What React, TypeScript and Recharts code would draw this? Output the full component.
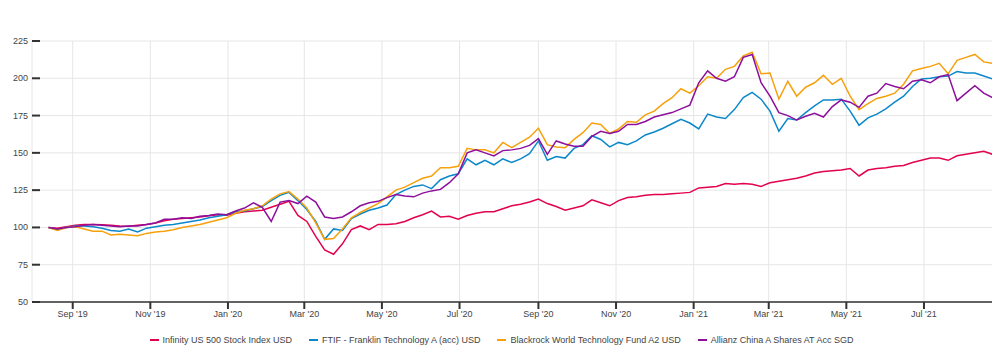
import React from 'react';
import { LineChart, Line, XAxis, YAxis, CartesianGrid, Legend } from 'recharts';

const DAY = 86400000;
const startDate = Date.UTC(2019, 7, 13);
const weekCount = 107;
const dates: number[] = Array.from({ length: weekCount }, (_, i) => startDate + i * 7 * DAY);

const infinityUS500 = [
  100, 99.5, 100.5, 101.5, 102, 102, 101.8, 101.5, 101, 100.8, 101.5, 102, 103, 104.5, 105.5, 106, 106.5, 107, 107.8, 108.5, 108.2,
  109.5, 110.5, 111, 111.5, 113.5, 115.5, 117.5, 108, 104, 94, 85, 82, 89, 98.5, 101, 98.5, 102, 102, 102.5, 104,
  106.5, 108.5, 111, 107, 107.5, 105.5, 108, 109.5, 110.5, 110.5, 112.5, 114.5, 115.5, 117, 119, 116, 114, 111.5, 113, 114.5,
  118.5, 116.5, 114.5, 118, 120, 120.5, 121.5, 122, 122, 122.5, 123, 123.5, 126.5, 127, 127.5, 129.5, 129, 129.5, 129, 127.5,
  130, 131, 132, 133, 134.5, 136.5, 137.5, 138, 138.5, 139.5, 134.5, 138.5, 139.5, 140, 141, 141.5, 143.5, 145, 146.5, 146.5, 145, 148, 149, 150, 151, 149,
];

const franklinTech = [
  100, 98.5, 100, 101, 101, 100.5, 99.5, 98, 97.5, 99, 97, 99.5, 100.5, 101.5, 102, 103, 104, 105, 106.5, 107.5, 108.5,
  110.5, 111, 112.5, 114, 118, 121.5, 123.5, 118, 112, 104, 92, 99, 98, 106, 109, 111.5, 113, 115, 122, 125,
  127.5, 128.5, 126, 132, 134.5, 136, 146, 142, 145, 142, 146, 143.5, 146, 149.5, 158, 145, 147.5, 146.5, 153, 155.5,
  161.5, 159, 154, 157, 155.5, 158, 162, 164, 166.5, 169.5, 172.5, 170, 166, 176, 174, 173, 179, 187, 190.5, 186,
  178, 164.5, 173, 172, 177, 181.5, 185.5, 185.5, 186, 178, 168.5, 173.5, 176, 179.5, 184, 188, 194.5, 199.5, 200, 201, 201.5, 204.5, 203.5, 203.5, 201.5, 199.5,
];

const blackrockTech = [
  100, 98, 100, 100.5, 99, 97.5, 97.5, 95, 95.5, 95, 94.5, 96, 97, 97.5, 98.5, 100, 101, 102, 103.5, 105, 106.5,
  109.5, 111.5, 112.5, 114.5, 119, 122.5, 124, 119, 113, 103, 92, 92.5, 99, 106.5, 110, 113, 116, 120.5, 125, 127,
  130, 133, 134.5, 140, 140, 141, 153, 152, 152, 150, 157, 153.5, 157, 160.5, 166.5, 155.5, 154, 153.5, 159, 163.5,
  170, 169, 163, 166, 171, 170.5, 175.5, 178, 183, 187, 193, 190, 195, 201, 200, 206, 208, 215, 217.5, 203,
  203.5, 186, 198, 188, 194, 197, 202, 196, 200, 188, 179, 183, 186.5, 188, 190, 196, 205, 206.5, 208, 210, 203, 212, 214, 216, 211, 210,
];

const allianzChinaA = [
  100, 99, 100, 100.5, 101.5, 102, 101.5, 101, 100.5, 101, 101, 102, 103, 105.5, 105.5, 106.5, 106, 107.5, 108, 109, 108.5,
  111, 113, 116.5, 113.5, 104, 117, 118, 116, 121, 117, 107, 106, 107, 110.5, 114.5, 116.5, 117.5, 120, 122, 121,
  120.5, 123, 124.5, 125.5, 130, 136, 150, 152, 150, 148, 151.5, 152, 153, 155, 159.5, 149, 158, 156, 154.5, 154.5,
  161, 164.5, 163, 164.5, 169, 169, 171, 174, 175.5, 177, 179.5, 182, 197, 205, 200, 198, 201, 214, 216, 197,
  188, 177, 175, 172, 174.5, 176.5, 174, 181, 185.5, 184, 180.5, 188, 190, 196.5, 194.5, 193, 198, 199, 197, 201, 202.5, 185, 190, 195, 190, 187,
];

const seriesKeys = ['infinity', 'franklin', 'blackrock', 'allianz'];
const seriesNames = [
  'Infinity US 500 Stock Index USD',
  'FTIF - Franklin Technology A (acc) USD',
  'Blackrock World Technology Fund A2 USD',
  'Allianz China A Shares AT Acc SGD',
];
const seriesColors = ['#e2024f', '#0b88cb', '#f6a10c', '#8d0f9c'];

const xTicks = [
  Date.UTC(2019, 8, 1), Date.UTC(2019, 10, 1), Date.UTC(2020, 0, 1), Date.UTC(2020, 2, 1),
  Date.UTC(2020, 4, 1), Date.UTC(2020, 6, 1), Date.UTC(2020, 8, 1), Date.UTC(2020, 10, 1),
  Date.UTC(2021, 0, 1), Date.UTC(2021, 2, 1), Date.UTC(2021, 4, 1), Date.UTC(2021, 6, 1),
];
const yTicks = [50, 75, 100, 125, 150, 175, 200, 225];
const monthNames = ['Jan', 'Feb', 'Mar', 'Apr', 'May', 'Jun', 'Jul', 'Aug', 'Sep', 'Oct', 'Nov', 'Dec'];

const xDomain = [Date.UTC(2019, 6, 31, 0), Date.UTC(2021, 7, 25, 20)];

const data = dates.map((d, i) => ({
  date: d,
  infinity: infinityUS500[i],
  franklin: franklinTech[i],
  blackrock: blackrockTech[i],
  allianz: allianzChinaA[i],
}));

const FONT = '"Liberation Sans", Arial, sans-serif';

const formatX = (t: number) => {
  const d = new Date(t);
  return `${monthNames[d.getUTCMonth()]} '${String(d.getUTCFullYear()).slice(2)}`;
};

const YTick = (props: any) => {
  const { x, y, payload } = props;
  return (
    <g>
      <line x1={x + 4} x2={x + 12} y1={y} y2={y} stroke="#333" strokeWidth={2} />
      <text x={x} y={y} dy={3} textAnchor="end" fontSize={9} fontFamily={FONT} fill="#444">
        {payload.value}
      </text>
    </g>
  );
};

const LegendContent = () => (
  <div
    style={{
      display: 'flex',
      justifyContent: 'center',
      alignItems: 'center',
      height: 20,
      fontFamily: FONT,
      fontSize: 9,
      color: '#444',
    }}
  >
    {seriesNames.map((n, i) => (
      <div key={n} style={{ display: 'flex', alignItems: 'center', marginRight: i < seriesNames.length - 1 ? 17 : 0 }}>
        <span style={{ display: 'inline-block', width: 9, height: 2, background: seriesColors[i], marginRight: 4 }} />
        <span>{n}</span>
      </div>
    ))}
  </div>
);

export default function App() {
  return (
    <LineChart width={992} height={344} data={data} margin={{ top: 33, right: 5, left: 0, bottom: 0 }}>
      <CartesianGrid stroke="#e6e6e6" strokeWidth={1} />
      <XAxis
        dataKey="date"
        type="number"
        scale="time"
        domain={xDomain}
        ticks={xTicks}
        interval={0}
        tickFormatter={formatX}
        axisLine={{ stroke: '#333', strokeWidth: 1.5 }}
        tickLine={{ stroke: '#333', strokeWidth: 2 }}
        tickSize={7}
        tickMargin={2}
        height={30}
        tick={{ fontSize: 9, fontFamily: FONT, fill: '#444' }}
      />
      <YAxis
        type="number"
        domain={[50, 225]}
        ticks={yTicks}
        interval={0}
        width={24}
        axisLine={false}
        tickLine={false}
        tickSize={0}
        tickMargin={4}
        tick={<YTick />}
      />
      <Legend verticalAlign="bottom" height={20} wrapperStyle={{ bottom: 2 }} content={<LegendContent />} />
      {seriesKeys.map((k, i) => (
        <Line
          key={k}
          type="linear"
          dataKey={k}
          name={seriesNames[i]}
          stroke={seriesColors[i]}
          strokeWidth={1.5}
          dot={false}
          activeDot={false}
          isAnimationActive={false}
        />
      ))}
    </LineChart>
  );
}
